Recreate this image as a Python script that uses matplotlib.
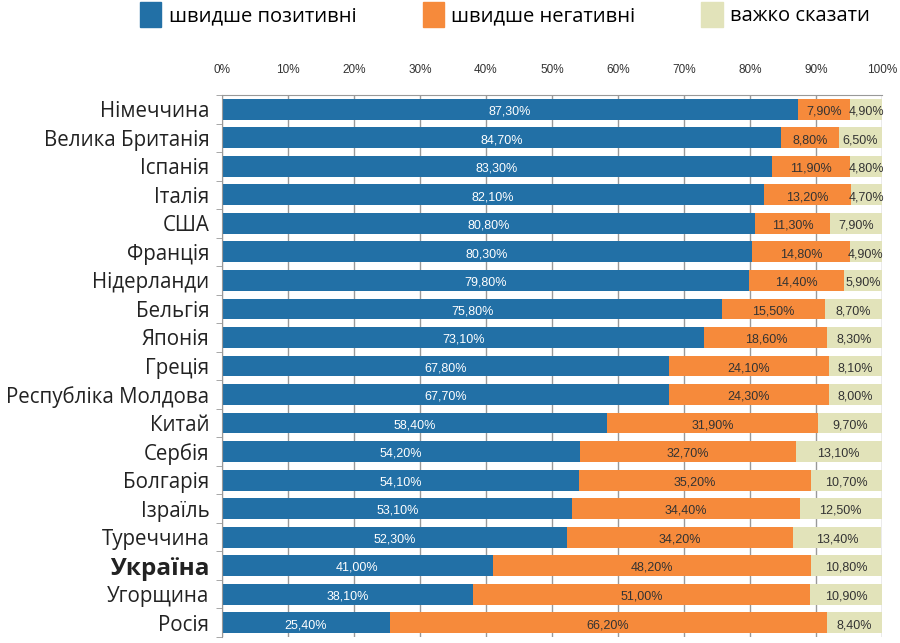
import numpy as np
import matplotlib.pyplot as plt
from matplotlib.patches import Patch

countries = ["Німеччина", "Велика Британія", "Іспанія", "Італія", "США", "Франція",
             "Нідерланди", "Бельгія", "Японія", "Греція", "Республіка Молдова", "Китай",
             "Сербія", "Болгарія", "Ізраїль", "Туреччина", "Україна", "Угорщина", "Росія"]
positive = [87.3, 84.7, 83.3, 82.1, 80.8, 80.3, 79.8, 75.8, 73.1, 67.8, 67.7, 58.4,
            54.2, 54.1, 53.1, 52.3, 41.0, 38.1, 25.4]
negative = [7.9, 8.8, 11.9, 13.2, 11.3, 14.8, 14.4, 15.5, 18.6, 24.1, 24.3, 31.9,
            32.7, 35.2, 34.4, 34.2, 48.2, 51.0, 66.2]
hard = [4.9, 6.5, 4.8, 4.7, 7.9, 4.9, 5.9, 8.7, 8.3, 8.1, 8.0, 9.7,
        13.1, 10.7, 12.5, 13.4, 10.8, 10.9, 8.4]
series_names = ["швидше позитивні", "швидше негативні", "важко сказати"]
colors = ["#2270a6", "#f68a3b", "#e2e3ba"]
label_colors = ["white", "#333333", "#333333"]

narrow = ["Liberation Sans Narrow", "Liberation Sans", "DejaVu Sans"]

fig = plt.figure(figsize=(9, 6.43), dpi=100)
ax = fig.add_axes([222 / 900, 1 - 637 / 643, 660 / 900, (637 - 95) / 643])

y = np.arange(len(countries))
left = np.zeros(len(countries))
for vals, c, lc in zip([positive, negative, hard], colors, label_colors):
    vals = np.array(vals)
    ax.barh(y, vals, left=left, height=0.73, color=c, zorder=2)
    for yi, l, v in zip(y, left, vals):
        ax.text(l + v / 2, yi + 0.08, f"{v:.2f}%".replace(".", ","), ha="center", va="center",
                fontsize=9, color=lc, family=narrow, zorder=3)
    left = left + vals

ax.set_xlim(0, 100)
ax.set_ylim(len(countries) - 0.5, -0.5)
ax.xaxis.tick_top()
ax.set_xticks(np.arange(0, 101, 10))
ax.set_xticklabels([f"{t}%" for t in range(0, 101, 10)], family=narrow,
                   fontsize=8.5, color="#333333")
ax.tick_params(axis="x", length=0, pad=14)
ax.grid(axis="x", color="#999999", linewidth=1, zorder=0)
ax.set_yticks(y)
ax.set_yticklabels(countries, family="Open Sans", fontsize=14.8, color="#222222")
for t in ax.get_yticklabels():
    if t.get_text() == "Україна":
        t.set_fontweight("bold")
        t.set_fontsize(17.5)
ax.tick_params(axis="y", length=0, pad=9)
ax.set_yticks(np.arange(-0.5, len(countries), 1), minor=True)
ax.tick_params(axis="y", which="minor", length=4, color="#999999")
for s in ax.spines.values():
    s.set_color("#999999")
ax.spines["bottom"].set_visible(False)
ax.spines["right"].set_visible(False)

handles = [Patch(color=c) for c in colors]
fig.legend(handles, series_names, loc="upper center", bbox_to_anchor=(0.561, 1.025), ncol=3,
           frameon=False, prop={"family": "Open Sans", "size": 14.5}, handlelength=1.05,
           handleheight=1.5, columnspacing=3.3, handletextpad=0.35)

fig.savefig("out.png", dpi=100)
